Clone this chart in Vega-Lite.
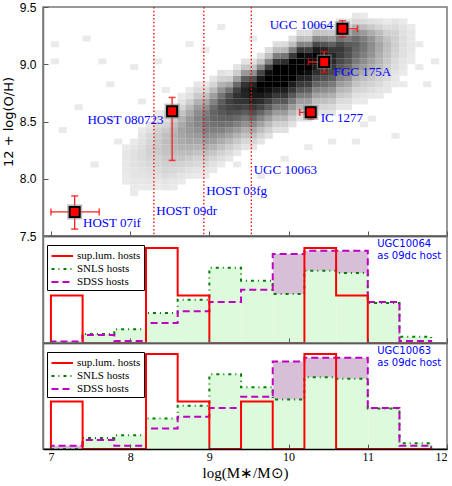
{
"$schema":"https://vega.github.io/schema/vega-lite/v6.json",
"padding":{"left":1,"top":0,"right":4,"bottom":0},
"background":"#ffffff",
"config":{"view":{"stroke":"#777777","strokeWidth":1.5},
"axis":{"grid":false,"labelFont":"Liberation Sans","labelFontSize":12,"labelColor":"#000","titleFont":"DejaVu Sans","titleFontWeight":"normal","titleFontSize":13,"titleColor":"#000","domainWidth":1.5,"tickColor":"#555"}},
"datasets":{
"dens":[
{"x":7.9,"y":8.15,"v":4},{"x":7.9,"y":8.2,"v":4},{"x":7.9,"y":8.25,"v":3},{"x":7.9,"y":8.1,"v":4},{"x":7.9,"y":8.05,"v":4},{"x":7.9,"y":8.0,"v":3},{"x":7.9,"y":7.95,"v":3},
{"x":8.0,"y":8.2,"v":6},{"x":8.0,"y":8.25,"v":5},{"x":8.0,"y":8.3,"v":3},{"x":8.0,"y":8.15,"v":6},{"x":8.0,"y":8.1,"v":6},{"x":8.0,"y":8.05,"v":5},{"x":8.0,"y":8.0,"v":5},{"x":8.0,"y":7.95,"v":4},{"x":8.0,"y":7.9,"v":3},
{"x":8.1,"y":8.25,"v":7},{"x":8.1,"y":8.3,"v":6},{"x":8.1,"y":8.35,"v":5},{"x":8.1,"y":8.4,"v":3},{"x":8.1,"y":8.2,"v":8},{"x":8.1,"y":8.15,"v":8},{"x":8.1,"y":8.1,"v":7},{"x":8.1,"y":8.05,"v":6},{"x":8.1,"y":8.0,"v":5},{"x":8.1,"y":7.95,"v":4},{"x":8.1,"y":7.9,"v":3},
{"x":8.2,"y":8.3,"v":10},{"x":8.2,"y":8.35,"v":9},{"x":8.2,"y":8.4,"v":6},{"x":8.2,"y":8.45,"v":4},{"x":8.2,"y":8.25,"v":11},{"x":8.2,"y":8.2,"v":11},{"x":8.2,"y":8.15,"v":10},{"x":8.2,"y":8.1,"v":9},{"x":8.2,"y":8.05,"v":7},{"x":8.2,"y":8.0,"v":6},{"x":8.2,"y":7.95,"v":5},{"x":8.2,"y":7.9,"v":3},
{"x":8.3,"y":8.35,"v":13},{"x":8.3,"y":8.4,"v":11},{"x":8.3,"y":8.45,"v":8},{"x":8.3,"y":8.5,"v":5},{"x":8.3,"y":8.55,"v":3},{"x":8.3,"y":8.3,"v":14},{"x":8.3,"y":8.25,"v":14},{"x":8.3,"y":8.2,"v":13},{"x":8.3,"y":8.15,"v":11},{"x":8.3,"y":8.1,"v":10},{"x":8.3,"y":8.05,"v":8},{"x":8.3,"y":8.0,"v":6},{"x":8.3,"y":7.95,"v":4},{"x":8.3,"y":7.9,"v":3},
{"x":8.4,"y":8.35,"v":17},{"x":8.4,"y":8.4,"v":14},{"x":8.4,"y":8.45,"v":10},{"x":8.4,"y":8.5,"v":7},{"x":8.4,"y":8.55,"v":4},{"x":8.4,"y":8.3,"v":18},{"x":8.4,"y":8.25,"v":17},{"x":8.4,"y":8.2,"v":16},{"x":8.4,"y":8.15,"v":14},{"x":8.4,"y":8.1,"v":12},{"x":8.4,"y":8.05,"v":10},{"x":8.4,"y":8.0,"v":8},{"x":8.4,"y":7.95,"v":5},{"x":8.4,"y":7.9,"v":4},
{"x":8.5,"y":8.4,"v":20},{"x":8.5,"y":8.45,"v":17},{"x":8.5,"y":8.5,"v":13},{"x":8.5,"y":8.55,"v":8},{"x":8.5,"y":8.6,"v":4},{"x":8.5,"y":8.35,"v":22},{"x":8.5,"y":8.3,"v":21},{"x":8.5,"y":8.25,"v":20},{"x":8.5,"y":8.2,"v":18},{"x":8.5,"y":8.15,"v":15},{"x":8.5,"y":8.1,"v":12},{"x":8.5,"y":8.05,"v":9},{"x":8.5,"y":8.0,"v":7},{"x":8.5,"y":7.95,"v":4},{"x":8.5,"y":7.9,"v":3},
{"x":8.6,"y":8.45,"v":25},{"x":8.6,"y":8.5,"v":21},{"x":8.6,"y":8.55,"v":16},{"x":8.6,"y":8.6,"v":10},{"x":8.6,"y":8.65,"v":5},{"x":8.6,"y":8.7,"v":3},{"x":8.6,"y":8.4,"v":27},{"x":8.6,"y":8.35,"v":26},{"x":8.6,"y":8.3,"v":24},{"x":8.6,"y":8.25,"v":22},{"x":8.6,"y":8.2,"v":18},{"x":8.6,"y":8.15,"v":15},{"x":8.6,"y":8.1,"v":11},{"x":8.6,"y":8.05,"v":8},{"x":8.6,"y":8.0,"v":5},{"x":8.6,"y":7.95,"v":3},
{"x":8.7,"y":8.5,"v":30},{"x":8.7,"y":8.55,"v":25},{"x":8.7,"y":8.6,"v":19},{"x":8.7,"y":8.65,"v":12},{"x":8.7,"y":8.7,"v":6},{"x":8.7,"y":8.75,"v":3},{"x":8.7,"y":8.45,"v":32},{"x":8.7,"y":8.4,"v":31},{"x":8.7,"y":8.35,"v":29},{"x":8.7,"y":8.3,"v":26},{"x":8.7,"y":8.25,"v":22},{"x":8.7,"y":8.2,"v":18},{"x":8.7,"y":8.15,"v":13},{"x":8.7,"y":8.1,"v":10},{"x":8.7,"y":8.05,"v":6},{"x":8.7,"y":8.0,"v":4},
{"x":8.8,"y":8.55,"v":35},{"x":8.8,"y":8.6,"v":30},{"x":8.8,"y":8.65,"v":22},{"x":8.8,"y":8.7,"v":14},{"x":8.8,"y":8.75,"v":8},{"x":8.8,"y":8.8,"v":4},{"x":8.8,"y":8.5,"v":38},{"x":8.8,"y":8.45,"v":37},{"x":8.8,"y":8.4,"v":34},{"x":8.8,"y":8.35,"v":30},{"x":8.8,"y":8.3,"v":26},{"x":8.8,"y":8.25,"v":21},{"x":8.8,"y":8.2,"v":16},{"x":8.8,"y":8.15,"v":11},{"x":8.8,"y":8.1,"v":8},{"x":8.8,"y":8.05,"v":5},{"x":8.8,"y":8.0,"v":3},
{"x":8.9,"y":8.55,"v":41},{"x":8.9,"y":8.6,"v":34},{"x":8.9,"y":8.65,"v":26},{"x":8.9,"y":8.7,"v":17},{"x":8.9,"y":8.75,"v":9},{"x":8.9,"y":8.8,"v":4},{"x":8.9,"y":8.5,"v":44},{"x":8.9,"y":8.45,"v":43},{"x":8.9,"y":8.4,"v":40},{"x":8.9,"y":8.35,"v":35},{"x":8.9,"y":8.3,"v":30},{"x":8.9,"y":8.25,"v":24},{"x":8.9,"y":8.2,"v":18},{"x":8.9,"y":8.15,"v":13},{"x":8.9,"y":8.1,"v":9},{"x":8.9,"y":8.05,"v":5},{"x":8.9,"y":8.0,"v":3},
{"x":9.0,"y":8.6,"v":47},{"x":9.0,"y":8.65,"v":39},{"x":9.0,"y":8.7,"v":29},{"x":9.0,"y":8.75,"v":19},{"x":9.0,"y":8.8,"v":10},{"x":9.0,"y":8.85,"v":5},{"x":9.0,"y":8.55,"v":50},{"x":9.0,"y":8.5,"v":49},{"x":9.0,"y":8.45,"v":45},{"x":9.0,"y":8.4,"v":40},{"x":9.0,"y":8.35,"v":34},{"x":9.0,"y":8.3,"v":28},{"x":9.0,"y":8.25,"v":21},{"x":9.0,"y":8.2,"v":15},{"x":9.0,"y":8.15,"v":10},{"x":9.0,"y":8.1,"v":6},{"x":9.0,"y":8.05,"v":3},
{"x":9.1,"y":8.65,"v":53},{"x":9.1,"y":8.7,"v":44},{"x":9.1,"y":8.75,"v":33},{"x":9.1,"y":8.8,"v":22},{"x":9.1,"y":8.85,"v":11},{"x":9.1,"y":8.9,"v":6},{"x":9.1,"y":8.6,"v":57},{"x":9.1,"y":8.55,"v":55},{"x":9.1,"y":8.5,"v":51},{"x":9.1,"y":8.45,"v":46},{"x":9.1,"y":8.4,"v":39},{"x":9.1,"y":8.35,"v":31},{"x":9.1,"y":8.3,"v":24},{"x":9.1,"y":8.25,"v":17},{"x":9.1,"y":8.2,"v":11},{"x":9.1,"y":8.15,"v":7},{"x":9.1,"y":8.1,"v":3},
{"x":9.2,"y":8.7,"v":58},{"x":9.2,"y":8.75,"v":44},{"x":9.2,"y":8.8,"v":26},{"x":9.2,"y":8.85,"v":12},{"x":9.2,"y":8.9,"v":4},{"x":9.2,"y":8.65,"v":64},{"x":9.2,"y":8.6,"v":62},{"x":9.2,"y":8.55,"v":58},{"x":9.2,"y":8.5,"v":51},{"x":9.2,"y":8.45,"v":44},{"x":9.2,"y":8.4,"v":35},{"x":9.2,"y":8.35,"v":27},{"x":9.2,"y":8.3,"v":19},{"x":9.2,"y":8.25,"v":13},{"x":9.2,"y":8.2,"v":8},{"x":9.2,"y":8.15,"v":4},
{"x":9.3,"y":8.75,"v":64},{"x":9.3,"y":8.8,"v":48},{"x":9.3,"y":8.85,"v":28},{"x":9.3,"y":8.9,"v":13},{"x":9.3,"y":8.95,"v":5},{"x":9.3,"y":8.7,"v":71},{"x":9.3,"y":8.65,"v":69},{"x":9.3,"y":8.6,"v":64},{"x":9.3,"y":8.55,"v":57},{"x":9.3,"y":8.5,"v":48},{"x":9.3,"y":8.45,"v":39},{"x":9.3,"y":8.4,"v":30},{"x":9.3,"y":8.35,"v":21},{"x":9.3,"y":8.3,"v":14},{"x":9.3,"y":8.25,"v":9},{"x":9.3,"y":8.2,"v":4},
{"x":9.4,"y":8.8,"v":70},{"x":9.4,"y":8.85,"v":53},{"x":9.4,"y":8.9,"v":31},{"x":9.4,"y":8.95,"v":14},{"x":9.4,"y":9.0,"v":5},{"x":9.4,"y":8.75,"v":78},{"x":9.4,"y":8.7,"v":76},{"x":9.4,"y":8.65,"v":70},{"x":9.4,"y":8.6,"v":62},{"x":9.4,"y":8.55,"v":53},{"x":9.4,"y":8.5,"v":43},{"x":9.4,"y":8.45,"v":33},{"x":9.4,"y":8.4,"v":23},{"x":9.4,"y":8.35,"v":16},{"x":9.4,"y":8.3,"v":9},{"x":9.4,"y":8.25,"v":5},
{"x":9.5,"y":8.8,"v":77},{"x":9.5,"y":8.85,"v":58},{"x":9.5,"y":8.9,"v":34},{"x":9.5,"y":8.95,"v":15},{"x":9.5,"y":9.0,"v":6},{"x":9.5,"y":8.75,"v":85},{"x":9.5,"y":8.7,"v":82},{"x":9.5,"y":8.65,"v":77},{"x":9.5,"y":8.6,"v":68},{"x":9.5,"y":8.55,"v":58},{"x":9.5,"y":8.5,"v":47},{"x":9.5,"y":8.45,"v":36},{"x":9.5,"y":8.4,"v":26},{"x":9.5,"y":8.35,"v":17},{"x":9.5,"y":8.3,"v":10},{"x":9.5,"y":8.25,"v":5},
{"x":9.6,"y":8.85,"v":82},{"x":9.6,"y":8.9,"v":62},{"x":9.6,"y":8.95,"v":36},{"x":9.6,"y":9.0,"v":16},{"x":9.6,"y":9.05,"v":6},{"x":9.6,"y":8.8,"v":91},{"x":9.6,"y":8.75,"v":88},{"x":9.6,"y":8.7,"v":82},{"x":9.6,"y":8.65,"v":73},{"x":9.6,"y":8.6,"v":62},{"x":9.6,"y":8.55,"v":50},{"x":9.6,"y":8.5,"v":38},{"x":9.6,"y":8.45,"v":27},{"x":9.6,"y":8.4,"v":18},{"x":9.6,"y":8.35,"v":11},{"x":9.6,"y":8.3,"v":5},
{"x":9.7,"y":8.9,"v":86},{"x":9.7,"y":8.95,"v":65},{"x":9.7,"y":9.0,"v":38},{"x":9.7,"y":9.05,"v":17},{"x":9.7,"y":9.1,"v":7},{"x":9.7,"y":8.85,"v":96},{"x":9.7,"y":8.8,"v":93},{"x":9.7,"y":8.75,"v":86},{"x":9.7,"y":8.7,"v":77},{"x":9.7,"y":8.65,"v":65},{"x":9.7,"y":8.6,"v":53},{"x":9.7,"y":8.55,"v":40},{"x":9.7,"y":8.5,"v":29},{"x":9.7,"y":8.45,"v":19},{"x":9.7,"y":8.4,"v":12},{"x":9.7,"y":8.35,"v":6},
{"x":9.8,"y":8.95,"v":90},{"x":9.8,"y":9.0,"v":68},{"x":9.8,"y":9.05,"v":40},{"x":9.8,"y":9.1,"v":18},{"x":9.8,"y":9.15,"v":7},{"x":9.8,"y":8.9,"v":100},{"x":9.8,"y":8.85,"v":97},{"x":9.8,"y":8.8,"v":90},{"x":9.8,"y":8.75,"v":80},{"x":9.8,"y":8.7,"v":68},{"x":9.8,"y":8.65,"v":55},{"x":9.8,"y":8.6,"v":42},{"x":9.8,"y":8.55,"v":30},{"x":9.8,"y":8.5,"v":20},{"x":9.8,"y":8.45,"v":12},{"x":9.8,"y":8.4,"v":6},
{"x":9.9,"y":8.95,"v":92},{"x":9.9,"y":9.0,"v":72},{"x":9.9,"y":9.05,"v":44},{"x":9.9,"y":9.1,"v":20},{"x":9.9,"y":9.15,"v":8},{"x":9.9,"y":8.9,"v":100},{"x":9.9,"y":8.85,"v":97},{"x":9.9,"y":8.8,"v":90},{"x":9.9,"y":8.75,"v":80},{"x":9.9,"y":8.7,"v":68},{"x":9.9,"y":8.65,"v":55},{"x":9.9,"y":8.6,"v":42},{"x":9.9,"y":8.55,"v":30},{"x":9.9,"y":8.5,"v":20},{"x":9.9,"y":8.45,"v":12},{"x":9.9,"y":8.4,"v":6},
{"x":10.0,"y":9.0,"v":90},{"x":10.0,"y":9.05,"v":68},{"x":10.0,"y":9.1,"v":40},{"x":10.0,"y":9.15,"v":18},{"x":10.0,"y":9.2,"v":7},{"x":10.0,"y":8.95,"v":100},{"x":10.0,"y":8.9,"v":97},{"x":10.0,"y":8.85,"v":90},{"x":10.0,"y":8.8,"v":80},{"x":10.0,"y":8.75,"v":68},{"x":10.0,"y":8.7,"v":55},{"x":10.0,"y":8.65,"v":42},{"x":10.0,"y":8.6,"v":30},{"x":10.0,"y":8.55,"v":20},{"x":10.0,"y":8.5,"v":12},{"x":10.0,"y":8.45,"v":6},
{"x":10.1,"y":9.05,"v":88},{"x":10.1,"y":9.1,"v":67},{"x":10.1,"y":9.15,"v":39},{"x":10.1,"y":9.2,"v":18},{"x":10.1,"y":9.25,"v":7},{"x":10.1,"y":9.0,"v":98},{"x":10.1,"y":8.95,"v":95},{"x":10.1,"y":8.9,"v":88},{"x":10.1,"y":8.85,"v":78},{"x":10.1,"y":8.8,"v":67},{"x":10.1,"y":8.75,"v":54},{"x":10.1,"y":8.7,"v":41},{"x":10.1,"y":8.65,"v":29},{"x":10.1,"y":8.6,"v":20},{"x":10.1,"y":8.55,"v":12},{"x":10.1,"y":8.5,"v":6},
{"x":10.2,"y":9.05,"v":86},{"x":10.2,"y":9.1,"v":65},{"x":10.2,"y":9.15,"v":38},{"x":10.2,"y":9.2,"v":17},{"x":10.2,"y":9.25,"v":7},{"x":10.2,"y":9.0,"v":95},{"x":10.2,"y":8.95,"v":92},{"x":10.2,"y":8.9,"v":86},{"x":10.2,"y":8.85,"v":76},{"x":10.2,"y":8.8,"v":65},{"x":10.2,"y":8.75,"v":52},{"x":10.2,"y":8.7,"v":40},{"x":10.2,"y":8.65,"v":29},{"x":10.2,"y":8.6,"v":19},{"x":10.2,"y":8.55,"v":11},{"x":10.2,"y":8.5,"v":6},
{"x":10.3,"y":9.1,"v":81},{"x":10.3,"y":9.15,"v":61},{"x":10.3,"y":9.2,"v":36},{"x":10.3,"y":9.25,"v":16},{"x":10.3,"y":9.3,"v":6},{"x":10.3,"y":9.05,"v":90},{"x":10.3,"y":9.0,"v":87},{"x":10.3,"y":8.95,"v":81},{"x":10.3,"y":8.9,"v":72},{"x":10.3,"y":8.85,"v":61},{"x":10.3,"y":8.8,"v":50},{"x":10.3,"y":8.75,"v":38},{"x":10.3,"y":8.7,"v":27},{"x":10.3,"y":8.65,"v":18},{"x":10.3,"y":8.6,"v":11},{"x":10.3,"y":8.55,"v":5},
{"x":10.4,"y":9.1,"v":76},{"x":10.4,"y":9.15,"v":57},{"x":10.4,"y":9.2,"v":34},{"x":10.4,"y":9.25,"v":15},{"x":10.4,"y":9.3,"v":6},{"x":10.4,"y":9.05,"v":84},{"x":10.4,"y":9.0,"v":81},{"x":10.4,"y":8.95,"v":76},{"x":10.4,"y":8.9,"v":67},{"x":10.4,"y":8.85,"v":57},{"x":10.4,"y":8.8,"v":46},{"x":10.4,"y":8.75,"v":35},{"x":10.4,"y":8.7,"v":25},{"x":10.4,"y":8.65,"v":17},{"x":10.4,"y":8.6,"v":10},{"x":10.4,"y":8.55,"v":5},
{"x":10.5,"y":9.1,"v":68},{"x":10.5,"y":9.15,"v":52},{"x":10.5,"y":9.2,"v":30},{"x":10.5,"y":9.25,"v":14},{"x":10.5,"y":9.3,"v":5},{"x":10.5,"y":9.05,"v":76},{"x":10.5,"y":9.0,"v":74},{"x":10.5,"y":8.95,"v":68},{"x":10.5,"y":8.9,"v":61},{"x":10.5,"y":8.85,"v":52},{"x":10.5,"y":8.8,"v":42},{"x":10.5,"y":8.75,"v":32},{"x":10.5,"y":8.7,"v":23},{"x":10.5,"y":8.65,"v":15},{"x":10.5,"y":8.6,"v":9},{"x":10.5,"y":8.55,"v":5},
{"x":10.6,"y":9.15,"v":61},{"x":10.6,"y":9.2,"v":46},{"x":10.6,"y":9.25,"v":27},{"x":10.6,"y":9.3,"v":12},{"x":10.6,"y":9.35,"v":5},{"x":10.6,"y":9.1,"v":68},{"x":10.6,"y":9.05,"v":66},{"x":10.6,"y":9.0,"v":61},{"x":10.6,"y":8.95,"v":54},{"x":10.6,"y":8.9,"v":46},{"x":10.6,"y":8.85,"v":37},{"x":10.6,"y":8.8,"v":29},{"x":10.6,"y":8.75,"v":20},{"x":10.6,"y":8.7,"v":14},{"x":10.6,"y":8.65,"v":8},{"x":10.6,"y":8.6,"v":4},
{"x":10.7,"y":9.15,"v":54},{"x":10.7,"y":9.2,"v":41},{"x":10.7,"y":9.25,"v":24},{"x":10.7,"y":9.3,"v":11},{"x":10.7,"y":9.35,"v":4},{"x":10.7,"y":9.1,"v":60},{"x":10.7,"y":9.05,"v":58},{"x":10.7,"y":9.0,"v":54},{"x":10.7,"y":8.95,"v":48},{"x":10.7,"y":8.9,"v":41},{"x":10.7,"y":8.85,"v":33},{"x":10.7,"y":8.8,"v":25},{"x":10.7,"y":8.75,"v":18},{"x":10.7,"y":8.7,"v":12},{"x":10.7,"y":8.65,"v":7},{"x":10.7,"y":8.6,"v":4},
{"x":10.8,"y":9.2,"v":47},{"x":10.8,"y":9.25,"v":35},{"x":10.8,"y":9.3,"v":21},{"x":10.8,"y":9.35,"v":9},{"x":10.8,"y":9.4,"v":4},{"x":10.8,"y":9.15,"v":52},{"x":10.8,"y":9.1,"v":50},{"x":10.8,"y":9.05,"v":47},{"x":10.8,"y":9.0,"v":42},{"x":10.8,"y":8.95,"v":35},{"x":10.8,"y":8.9,"v":29},{"x":10.8,"y":8.85,"v":22},{"x":10.8,"y":8.8,"v":16},{"x":10.8,"y":8.75,"v":10},{"x":10.8,"y":8.7,"v":6},{"x":10.8,"y":8.65,"v":3},
{"x":10.9,"y":9.2,"v":40},{"x":10.9,"y":9.25,"v":30},{"x":10.9,"y":9.3,"v":18},{"x":10.9,"y":9.35,"v":8},{"x":10.9,"y":9.4,"v":3},{"x":10.9,"y":9.15,"v":44},{"x":10.9,"y":9.1,"v":43},{"x":10.9,"y":9.05,"v":40},{"x":10.9,"y":9.0,"v":35},{"x":10.9,"y":8.95,"v":30},{"x":10.9,"y":8.9,"v":24},{"x":10.9,"y":8.85,"v":18},{"x":10.9,"y":8.8,"v":13},{"x":10.9,"y":8.75,"v":9},{"x":10.9,"y":8.7,"v":5},{"x":10.9,"y":8.65,"v":3},
{"x":11.0,"y":9.2,"v":32},{"x":11.0,"y":9.25,"v":24},{"x":11.0,"y":9.3,"v":14},{"x":11.0,"y":9.35,"v":6},{"x":11.0,"y":9.15,"v":35},{"x":11.0,"y":9.1,"v":34},{"x":11.0,"y":9.05,"v":32},{"x":11.0,"y":9.0,"v":28},{"x":11.0,"y":8.95,"v":24},{"x":11.0,"y":8.9,"v":19},{"x":11.0,"y":8.85,"v":15},{"x":11.0,"y":8.8,"v":11},{"x":11.0,"y":8.75,"v":7},{"x":11.0,"y":8.7,"v":4},
{"x":11.1,"y":9.2,"v":23},{"x":11.1,"y":9.25,"v":18},{"x":11.1,"y":9.3,"v":10},{"x":11.1,"y":9.35,"v":5},{"x":11.1,"y":9.15,"v":26},{"x":11.1,"y":9.1,"v":25},{"x":11.1,"y":9.05,"v":23},{"x":11.1,"y":9.0,"v":21},{"x":11.1,"y":8.95,"v":18},{"x":11.1,"y":8.9,"v":14},{"x":11.1,"y":8.85,"v":11},{"x":11.1,"y":8.8,"v":8},{"x":11.1,"y":8.75,"v":5},{"x":11.1,"y":8.7,"v":3},
{"x":11.2,"y":9.2,"v":16},{"x":11.2,"y":9.25,"v":12},{"x":11.2,"y":9.3,"v":7},{"x":11.2,"y":9.35,"v":3},{"x":11.2,"y":9.15,"v":18},{"x":11.2,"y":9.1,"v":17},{"x":11.2,"y":9.05,"v":16},{"x":11.2,"y":9.0,"v":14},{"x":11.2,"y":8.95,"v":12},{"x":11.2,"y":8.9,"v":10},{"x":11.2,"y":8.85,"v":8},{"x":11.2,"y":8.8,"v":5},{"x":11.2,"y":8.75,"v":4},
{"x":11.3,"y":9.25,"v":11},{"x":11.3,"y":9.3,"v":8},{"x":11.3,"y":9.35,"v":5},{"x":11.3,"y":9.2,"v":12},{"x":11.3,"y":9.15,"v":12},{"x":11.3,"y":9.1,"v":11},{"x":11.3,"y":9.05,"v":10},{"x":11.3,"y":9.0,"v":8},{"x":11.3,"y":8.95,"v":7},{"x":11.3,"y":8.9,"v":5},{"x":11.3,"y":8.85,"v":4},{"x":11.3,"y":8.8,"v":3},
{"x":11.4,"y":9.25,"v":6},{"x":11.4,"y":9.3,"v":5},{"x":11.4,"y":9.35,"v":3},{"x":11.4,"y":9.2,"v":7},{"x":11.4,"y":9.15,"v":7},{"x":11.4,"y":9.1,"v":6},{"x":11.4,"y":9.05,"v":6},{"x":11.4,"y":9.0,"v":5},{"x":11.4,"y":8.95,"v":4},{"x":11.4,"y":8.9,"v":3},
{"x":11.5,"y":9.2,"v":4},{"x":11.5,"y":9.25,"v":4},{"x":11.5,"y":9.15,"v":4},{"x":11.5,"y":9.1,"v":4},{"x":11.5,"y":9.05,"v":3},{"x":11.5,"y":9.0,"v":3},{"x":11.5,"y":9.3,"v":3},
{"x":7.0,"y":9.15,"v":3},{"x":7.0,"y":9.0,"v":3},{"x":7.1,"y":8.4,"v":3},{"x":7.4,"y":9.2,"v":3},{"x":7.6,"y":9.0,"v":3},{"x":7.7,"y":8.8,"v":3},{"x":8.0,"y":8.95,"v":3},{"x":8.1,"y":8.65,"v":3},{"x":11.4,"y":8.8,"v":3},{"x":11.3,"y":8.35,"v":3},{"x":10.9,"y":8.45,"v":3},{"x":10.5,"y":8.3,"v":3},{"x":9.9,"y":8.15,"v":3},{"x":11.7,"y":8.8,"v":3},{"x":9.1,"y":9.3,"v":3},{"x":8.7,"y":9.15,"v":3},{"x":8.3,"y":9.0,"v":3},{"x":7.3,"y":8.6,"v":3},{"x":7.8,"y":8.3,"v":3},{"x":8.4,"y":8.75,"v":3},{"x":8.9,"y":9.1,"v":3},{"x":9.5,"y":9.2,"v":3},{"x":9.3,"y":8.1,"v":3},{"x":10.2,"y":8.25,"v":3},{"x":11.0,"y":8.5,"v":3},{"x":11.6,"y":9.15,"v":3},{"x":11.8,"y":9.0,"v":3},{"x":7.5,"y":8.1,"v":3},{"x":8.0,"y":7.85,"v":3},{"x":9.6,"y":8.0,"v":3},{"x":10.8,"y":8.3,"v":3},{"x":11.6,"y":8.95,"v":3},{"x":7.7,"y":8.5,"v":3},{"x":9.8,"y":9.3,"v":3}
],
"pts":[
{"n":"HOST 07if","x":7.30,"y":7.71,"xlo":7.00,"xhi":7.61,"ylo":7.56,"yhi":7.85},
{"n":"HOST 080723","x":8.53,"y":8.59,"xlo":8.53,"xhi":8.53,"ylo":8.16,"yhi":8.71},
{"n":"UGC 10064","x":10.68,"y":9.31,"xlo":10.68,"xhi":10.87,"ylo":9.24,"yhi":9.38},
{"n":"FGC 175A","x":10.45,"y":9.02,"xlo":10.25,"xhi":10.45,"ylo":8.93,"yhi":9.11},
{"n":"IC 1277","x":10.28,"y":8.58,"xlo":10.14,"xhi":10.28,"ylo":8.52,"yhi":8.63}
],
"labs":[
{"t":"UGC 10064","lx":10.56,"ly":9.34},
{"t":"HOST 080723","lx":8.42,"ly":8.51},
{"t":"FGC 175A","lx":10.57,"ly":8.935},
{"t":"IC 1277","lx":10.405,"ly":8.53},
{"t":"UGC 10063","lx":9.56,"ly":8.075},
{"t":"HOST 03fg","lx":8.96,"ly":7.89},
{"t":"HOST 09dr","lx":8.33,"ly":7.72},
{"t":"HOST 07if","lx":7.405,"ly":7.61}
],
"vl":[{"x":8.30},{"x":8.93},{"x":9.53}],
"hist":[
{"p":"mid","k":0,"x":7.0,"sl":0,"snls":0,"sdss":0},
{"p":"mid","k":1,"x":7.0,"sl":1,"snls":0,"sdss":0.03},
{"p":"mid","k":2,"x":7.4,"sl":0,"snls":0.19,"sdss":0.17},
{"p":"mid","k":3,"x":7.8,"sl":0,"snls":0.29,"sdss":0.04},
{"p":"mid","k":4,"x":8.2,"sl":2,"snls":0.63,"sdss":0.42},
{"p":"mid","k":5,"x":8.6,"sl":1,"snls":0.91,"sdss":0.67},
{"p":"mid","k":6,"x":9.0,"sl":0,"snls":1.58,"sdss":0.86},
{"p":"mid","k":7,"x":9.4,"sl":0,"snls":1.31,"sdss":1.12},
{"p":"mid","k":8,"x":9.8,"sl":0,"snls":1.03,"sdss":1.87},
{"p":"mid","k":9,"x":10.2,"sl":2,"snls":1.52,"sdss":1.94},
{"p":"mid","k":10,"x":10.6,"sl":1,"snls":1.47,"sdss":1.94},
{"p":"mid","k":11,"x":11.0,"sl":0,"snls":0.84,"sdss":0.86},
{"p":"mid","k":12,"x":11.4,"sl":0,"snls":0.13,"sdss":0.04},
{"p":"mid","k":13,"x":11.8,"sl":0,"snls":0,"sdss":0},
{"p":"bot","k":0,"x":7.0,"sl":0,"snls":0,"sdss":0},
{"p":"bot","k":1,"x":7.0,"sl":1,"snls":0,"sdss":0.07},
{"p":"bot","k":2,"x":7.4,"sl":0,"snls":0.23,"sdss":0.19},
{"p":"bot","k":3,"x":7.8,"sl":0,"snls":0.29,"sdss":0.07},
{"p":"bot","k":4,"x":8.2,"sl":2,"snls":0.64,"sdss":0.43},
{"p":"bot","k":5,"x":8.6,"sl":1,"snls":0.91,"sdss":0.68},
{"p":"bot","k":6,"x":9.0,"sl":0,"snls":1.57,"sdss":0.86},
{"p":"bot","k":7,"x":9.4,"sl":1,"snls":1.30,"sdss":1.10},
{"p":"bot","k":8,"x":9.8,"sl":0,"snls":1.04,"sdss":1.84},
{"p":"bot","k":9,"x":10.2,"sl":2,"snls":1.51,"sdss":1.92},
{"p":"bot","k":10,"x":10.6,"sl":0,"snls":1.48,"sdss":1.92},
{"p":"bot","k":11,"x":11.0,"sl":0,"snls":0.85,"sdss":0.86},
{"p":"bot","k":12,"x":11.4,"sl":0,"snls":0.12,"sdss":0.07},
{"p":"bot","k":13,"x":11.8,"sl":0,"snls":0,"sdss":0}
],
"ann":[{"p":"mid","t":["UGC10064","as 09dc host"]},{"p":"bot","t":["UGC10063","as 09dc host"]}]
},
"spacing":0,
"bounds":"flush",
"resolve":{"scale":{"color":"independent","strokeDash":"independent"},"legend":{"color":"independent","strokeDash":"independent"}},
"vconcat":[
{"width":404,"height":229,
"layer":[
{"data":{"name":"dens"},"mark":{"type":"rect","clip":true,"width":8.1,"height":5.9,"xOffset":3.96,"yOffset":-2.86},
"encoding":{
"x":{"field":"x","type":"quantitative","scale":{"domain":[6.9,12],"nice":false,"zero":false},"axis":{"values":[7,8,9,10,11,12],"labels":false,"tickSize":-5,"domainColor":"#000","title":null}},
"y":{"field":"y","type":"quantitative","scale":{"domain":[7.5,9.5],"nice":false,"zero":false},"axis":{"values":[7.5,8,8.5,9,9.5],"format":".1f","tickSize":-5,"labelPadding":12,"title":"12 + log(O/H)","titlePadding":4,"domainColor":"#777"}},
"color":{"field":"v","type":"quantitative","scale":{"domain":[0,90],"range":["#f3f3f3","#000000"],"clamp":true},"legend":null}}},
{"data":{"name":"vl"},"mark":{"type":"rule","color":"#ff0000","strokeWidth":1.3,"strokeDash":[1.5,2.2]},
"encoding":{"x":{"field":"x","type":"quantitative"}}},
{"data":{"name":"pts"},"mark":{"type":"rule","color":"#ff2020","strokeWidth":1.3},
"encoding":{"x":{"field":"x","type":"quantitative"},"y":{"field":"ylo","type":"quantitative"},"y2":{"field":"yhi"}}},
{"data":{"name":"pts"},"mark":{"type":"rule","color":"#ff2020","strokeWidth":1.3},
"encoding":{"y":{"field":"y","type":"quantitative"},"x":{"field":"xlo","type":"quantitative"},"x2":{"field":"xhi"}}},
{"data":{"name":"pts"},"transform":[{"fold":["ylo","yhi"],"as":["e","ev"]}],"mark":{"type":"tick","orient":"horizontal","color":"#ff0000","size":7,"thickness":1.6},
"encoding":{"x":{"field":"x","type":"quantitative"},"y":{"field":"ev","type":"quantitative"}}},
{"data":{"name":"pts"},"transform":[{"fold":["xlo","xhi"],"as":["e","ev"]}],"mark":{"type":"tick","orient":"vertical","color":"#ff0000","size":7,"thickness":1.6},
"encoding":{"x":{"field":"ev","type":"quantitative"},"y":{"field":"y","type":"quantitative"}}},
{"data":{"name":"pts"},"mark":{"type":"point","shape":"square","filled":true,"color":"#8a8a8a","opacity":0.55,"size":230},
"encoding":{"x":{"field":"x","type":"quantitative"},"y":{"field":"y","type":"quantitative"}}},
{"data":{"name":"pts"},"mark":{"type":"point","shape":"square","filled":true,"fill":"#ff0000","stroke":"#000000","strokeWidth":2,"size":100,"opacity":1},
"encoding":{"x":{"field":"x","type":"quantitative"},"y":{"field":"y","type":"quantitative"}}},
{"data":{"name":"labs"},"transform":[{"filter":"datum.t=='UGC 10064' || datum.t=='HOST 080723'"}],"mark":{"type":"text","align":"right","baseline":"middle","font":"Liberation Serif","fontSize":13,"color":"#0000ff"},
"encoding":{"x":{"field":"lx","type":"quantitative"},"y":{"field":"ly","type":"quantitative"},"text":{"field":"t"}}},
{"data":{"name":"labs"},"transform":[{"filter":"datum.t!='UGC 10064' && datum.t!='HOST 080723'"}],"mark":{"type":"text","align":"left","baseline":"middle","font":"Liberation Serif","fontSize":13,"color":"#0000ff"},
"encoding":{"x":{"field":"lx","type":"quantitative"},"y":{"field":"ly","type":"quantitative"},"text":{"field":"t"}}}
]},
{"width":404,"height":107,
"layer":[
{"data":{"name":"hist"},"transform":[{"filter":"datum.p=='mid' && datum.k>0 && datum.k<13"}],"mark":{"type":"rect","fill":"#ddfadd","binSpacing":0},
"encoding":{"x":{"field":"x","type":"quantitative","bin":{"binned":true,"step":0.4},"scale":{"domain":[6.9,12],"nice":false,"zero":false},"axis":{"values":[7,8,9,10,11,12],"labels":false,"tickSize":-5,"domainColor":"#000","title":null}},
"y":{"field":"snls","type":"quantitative","scale":{"domain":[0,2.25],"nice":false},"axis":{"labels":false,"ticks":false,"title":null,"domainColor":"#777"}},"y2":{"datum":0}}},
{"data":{"name":"hist"},"transform":[{"filter":"datum.p=='mid' && datum.k>0 && datum.k<13 && datum.sdss>datum.snls"}],"mark":{"type":"rect","fill":"#d8bfd8","binSpacing":0},
"encoding":{"x":{"field":"x","type":"quantitative","bin":{"binned":true,"step":0.4}},"y":{"field":"snls","type":"quantitative"},"y2":{"field":"sdss"}}},
{"data":{"name":"hist"},"transform":[{"filter":"datum.p=='mid'"},{"fold":["sl","snls","sdss"],"as":["s","v"]},{"filter":"datum.s!='sl'"}],"mark":{"type":"line","interpolate":"step-after","strokeWidth":2},
"encoding":{"x":{"field":"x","type":"quantitative"},"y":{"field":"v","type":"quantitative"},"order":{"field":"k","type":"quantitative"},
"color":{"field":"s","type":"nominal","scale":{"domain":["sl","snls","sdss"],"range":["#ff0000","#008000","#c000c0"]},"legend":{"orient":"none","legendX":4,"legendY":9,"title":null,"symbolType":"M-1,0H2.3","symbolSize":170,"symbolStrokeWidth":2,"labelOffset":11,"labelFont":"Liberation Serif","labelFontSize":11,"labelColor":"#000","strokeColor":"#000","fillColor":"#fff","padding":3,"rowPadding":-2,"cornerRadius":0,"labelExpr":"datum.label=='sl'?'sup.lum. hosts':datum.label=='snls'?'SNLS hosts':'SDSS hosts'"}},
"strokeDash":{"field":"s","type":"nominal","scale":{"domain":["sl","snls","sdss"],"range":[[1,0],[3,4,1,4],[7,4]]},"legend":{"orient":"none","legendX":4,"legendY":9,"title":null,"symbolType":"M-1,0H2.3","symbolSize":170,"symbolStrokeWidth":2,"labelOffset":11,"labelFont":"Liberation Serif","labelFontSize":11,"labelColor":"#000","strokeColor":"#000","fillColor":"#fff","padding":3,"rowPadding":-2,"cornerRadius":0,"labelExpr":"datum.label=='sl'?'sup.lum. hosts':datum.label=='snls'?'SNLS hosts':'SDSS hosts'"}}}},
{"data":{"name":"hist"},"transform":[{"filter":"datum.p=='mid'"},{"fold":["sl","snls","sdss"],"as":["s","v"]},{"filter":"datum.s=='sl'"}],"mark":{"type":"line","interpolate":"step-after","strokeWidth":2},
"encoding":{"x":{"field":"x","type":"quantitative"},"y":{"field":"v","type":"quantitative"},"order":{"field":"k","type":"quantitative"},
"color":{"field":"s","type":"nominal"},"strokeDash":{"field":"s","type":"nominal"}}},
{"data":{"name":"ann"},"transform":[{"filter":"datum.p=='mid'"}],"mark":{"type":"text","align":"left","baseline":"top","font":"DejaVu Sans","fontSize":10,"lineHeight":12,"color":"#0000ff"},
"encoding":{"x":{"datum":11.12},"y":{"datum":2.19},"text":{"field":"t"}}}
]},
{"width":404,"height":106,
"layer":[
{"data":{"name":"hist"},"transform":[{"filter":"datum.p=='bot' && datum.k>0 && datum.k<13"}],"mark":{"type":"rect","fill":"#ddfadd","binSpacing":0},
"encoding":{"x":{"field":"x","type":"quantitative","bin":{"binned":true,"step":0.4},"scale":{"domain":[6.9,12],"nice":false,"zero":false},"axis":{"values":[7,8,9,10,11,12],"format":"d","labelFont":"Liberation Serif","labelFontSize":12,"tickSize":-5,"labelPadding":7,"domainColor":"#000","title":"log(M∗/M⊙)","titleFont":"Liberation Serif","titleFontSize":15,"titlePadding":3}},
"y":{"field":"snls","type":"quantitative","scale":{"domain":[0,2.23],"nice":false},"axis":{"labels":false,"ticks":false,"title":null,"domainColor":"#777"}},"y2":{"datum":0}}},
{"data":{"name":"hist"},"transform":[{"filter":"datum.p=='bot' && datum.k>0 && datum.k<13 && datum.sdss>datum.snls"}],"mark":{"type":"rect","fill":"#d8bfd8","binSpacing":0},
"encoding":{"x":{"field":"x","type":"quantitative","bin":{"binned":true,"step":0.4}},"y":{"field":"snls","type":"quantitative"},"y2":{"field":"sdss"}}},
{"data":{"name":"hist"},"transform":[{"filter":"datum.p=='bot'"},{"fold":["sl","snls","sdss"],"as":["s","v"]},{"filter":"datum.s!='sl'"}],"mark":{"type":"line","interpolate":"step-after","strokeWidth":2},
"encoding":{"x":{"field":"x","type":"quantitative"},"y":{"field":"v","type":"quantitative"},"order":{"field":"k","type":"quantitative"},
"color":{"field":"s","type":"nominal","scale":{"domain":["sl","snls","sdss"],"range":["#ff0000","#008000","#c000c0"]},"legend":{"orient":"none","legendX":4,"legendY":9,"title":null,"symbolType":"M-1,0H2.3","symbolSize":170,"symbolStrokeWidth":2,"labelOffset":11,"labelFont":"Liberation Serif","labelFontSize":11,"labelColor":"#000","strokeColor":"#000","fillColor":"#fff","padding":3,"rowPadding":-2,"cornerRadius":0,"labelExpr":"datum.label=='sl'?'sup.lum. hosts':datum.label=='snls'?'SNLS hosts':'SDSS hosts'"}},
"strokeDash":{"field":"s","type":"nominal","scale":{"domain":["sl","snls","sdss"],"range":[[1,0],[3,4,1,4],[7,4]]},"legend":{"orient":"none","legendX":4,"legendY":9,"title":null,"symbolType":"M-1,0H2.3","symbolSize":170,"symbolStrokeWidth":2,"labelOffset":11,"labelFont":"Liberation Serif","labelFontSize":11,"labelColor":"#000","strokeColor":"#000","fillColor":"#fff","padding":3,"rowPadding":-2,"cornerRadius":0,"labelExpr":"datum.label=='sl'?'sup.lum. hosts':datum.label=='snls'?'SNLS hosts':'SDSS hosts'"}}}},
{"data":{"name":"hist"},"transform":[{"filter":"datum.p=='bot'"},{"fold":["sl","snls","sdss"],"as":["s","v"]},{"filter":"datum.s=='sl'"}],"mark":{"type":"line","interpolate":"step-after","strokeWidth":2},
"encoding":{"x":{"field":"x","type":"quantitative"},"y":{"field":"v","type":"quantitative"},"order":{"field":"k","type":"quantitative"},
"color":{"field":"s","type":"nominal"},"strokeDash":{"field":"s","type":"nominal"}}},
{"data":{"name":"ann"},"transform":[{"filter":"datum.p=='bot'"}],"mark":{"type":"text","align":"left","baseline":"top","font":"DejaVu Sans","fontSize":10,"lineHeight":12,"color":"#0000ff"},
"encoding":{"x":{"datum":11.12},"y":{"datum":2.17},"text":{"field":"t"}}}
]}
]
}
